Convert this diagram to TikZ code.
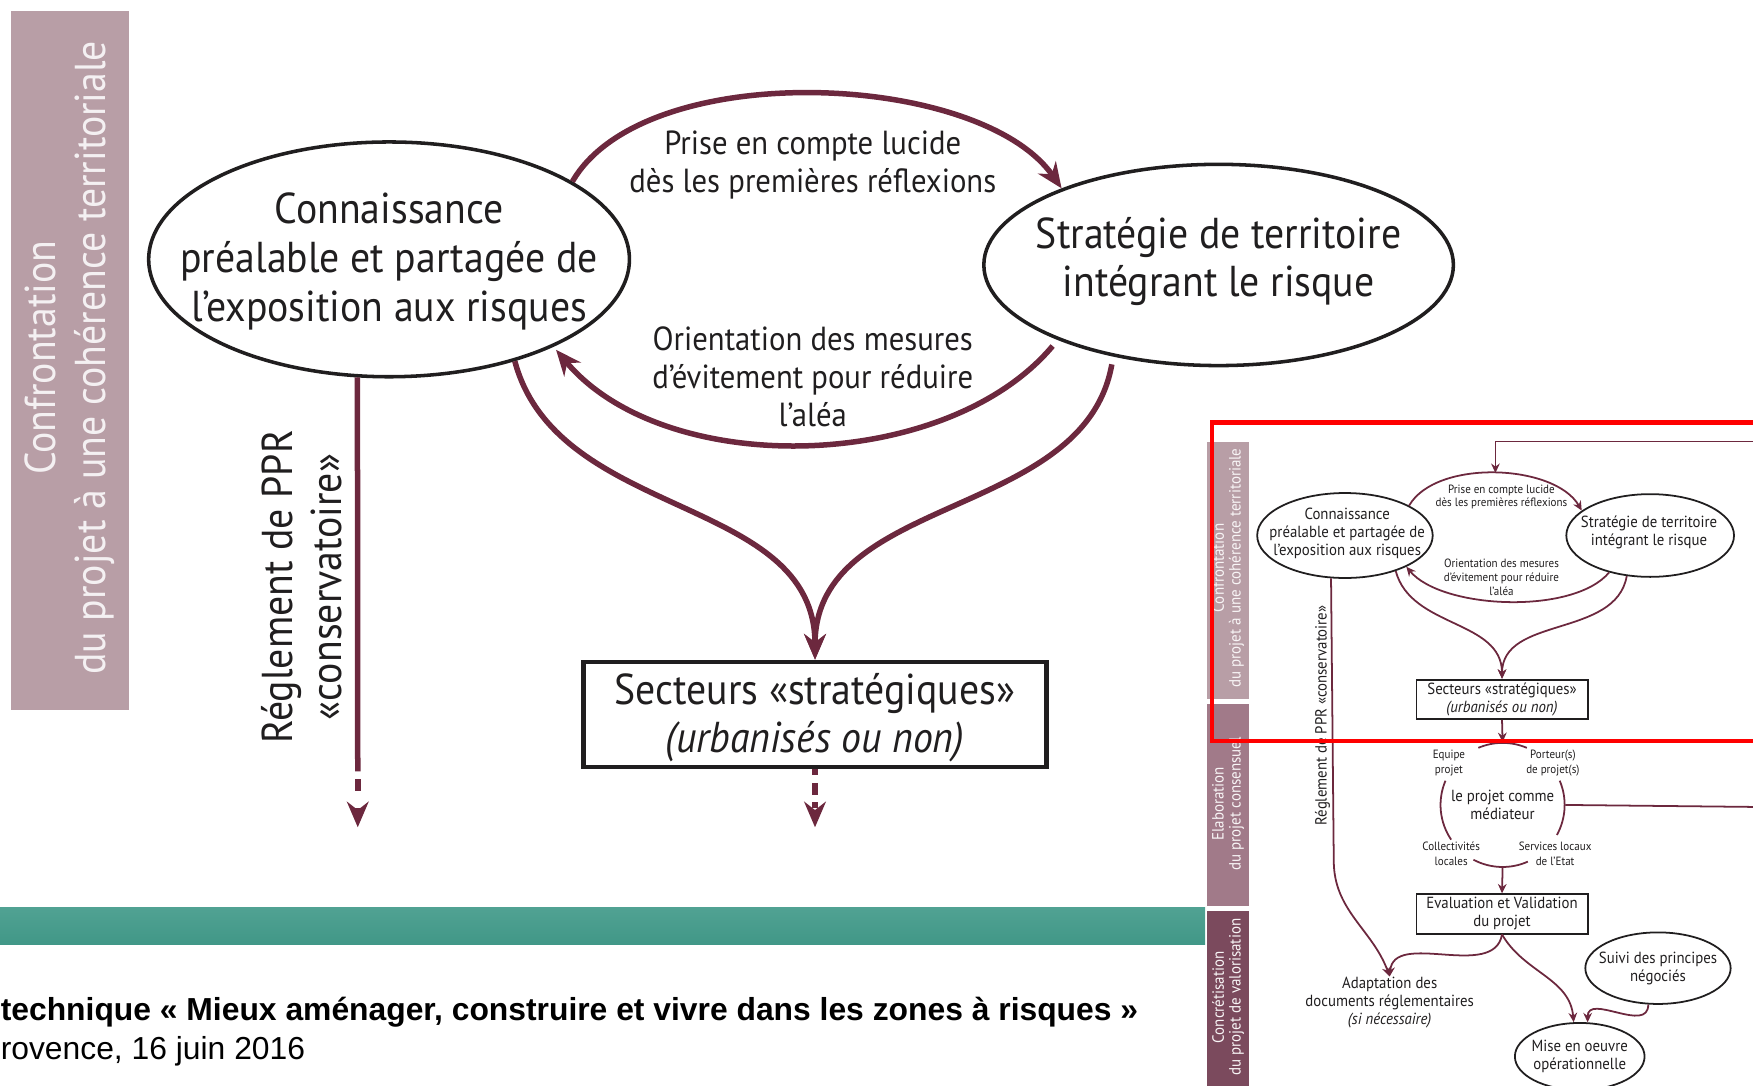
\documentclass[tikz,border=0pt]{standalone}
\usepackage{fontspec}
\setmainfont{PT Sans}[FakeStretch=0.92]
\newfontfamily\footfont{Liberation Sans}
\usepackage{xcolor}
\usepackage{tikz}
\usetikzlibrary{calc,arrows.meta,shapes.geometric}

\definecolor{plum}{RGB}{108,40,62}
\definecolor{ink}{RGB}{32,30,31}
\definecolor{bandA}{RGB}{184,158,166}
\definecolor{bandB}{RGB}{161,122,137}
\definecolor{bandC}{RGB}{123,74,93}
\definecolor{seagreen}{RGB}{72,168,150}

\begin{document}
\begin{tikzpicture}[scale=1,
  bubble/.style={ellipse, draw=ink, line width=0.9pt, inner sep=0pt},
  ibubble/.style={ellipse, draw=ink, line width=0.45pt, inner sep=0pt},
  framebox/.style={rectangle, draw=ink, line width=1.1pt, inner sep=0pt, minimum width=4.14cm, minimum height=0.94cm},
  iframebox/.style={rectangle, draw=ink, line width=0.5pt, inner sep=0pt, minimum width=1.53cm, minimum height=0.35cm},
  bigtext/.style={text=ink, align=center, inner sep=0pt, font=\fontsize{11}{12.4}\selectfont},
  midtext/.style={text=ink, align=center, inner sep=0pt, font=\fontsize{8.5}{9.7}\selectfont},
  itext/.style={text=ink, align=center, inner sep=0pt, font=\fontsize{4.1}{4.6}\selectfont},
  ismalltext/.style={text=ink, align=center, inner sep=0pt, font=\fontsize{3.05}{3.55}\selectfont},
  itinytext/.style={text=ink, align=center, inner sep=0pt, font=\fontsize{3.05}{3.7}\selectfont},
  bandtext/.style={text=white!85!bandA, align=center, inner sep=0pt, rotate=90, font=\fontsize{11}{12.8}\selectfont},
  ibandtext/.style={text=white!90!bandA, align=center, inner sep=0pt, rotate=90, font=\fontsize{4.15}{4.3}\selectfont},
  flow/.style={draw=plum, line width=1.4pt, -{Stealth[length=6.5pt,width=5.5pt]}},
  iflow/.style={draw=plum, line width=0.45pt, -{Stealth[length=2.4pt,width=2.2pt]}},
  plumline/.style={draw=plum, line width=0.45pt}
]
\useasboundingbox (0,0) rectangle (15.68,-9.71);
\clip (0,0) rectangle (15.68,-9.71);

% left band
\fill[bandA] (0.10,-0.10) rectangle (1.15,-6.35);
\node[bandtext] (bandLabel) at (0.625,-3.20) {Confrontation\\du projet à une cohérence territoriale};

% main diagram
\node[bubble, minimum width=4.30cm, minimum height=2.10cm] (conn) at (3.48,-2.32) {};
\node[bigtext] (connText) at (3.48,-2.34) {Connaissance\\préalable et partagée de\\l’exposition aux risques};
\node[bubble, minimum width=4.20cm, minimum height=1.80cm] (strat) at (10.90,-2.37) {};
\node[bigtext] (stratText) at (10.90,-2.34) {Stratégie de territoire\\intégrant le risque};
\node[framebox] (sect) at (7.29,-6.39) {};
\node[bigtext] (sectText) at (7.29,-6.42) {Secteurs «stratégiques»\\\textit{(urbanisés ou non)}};

\node[midtext] (takeText) at (7.27,-1.48) {Prise en compte lucide\\dès les premières réflexions};
\node[midtext] (steerText) at (7.27,-3.37) {Orientation des mesures\\d’évitement pour réduire\\l’aléa};

\draw[flow] (conn.23) to[out=60,in=125,looseness=0.75] (strat.154);
\draw[flow, shorten <=2pt, shorten >=1pt] (strat.205) to[out=230,in=-50,looseness=0.88] (conn.-28);
\draw[flow] (conn.-39) to[out=-75,in=90] (sect.north);
\draw[flow, shorten <=2pt] (strat.221) to[out=-100,in=90] (sect.north);

% PPR branch
\node[bigtext, rotate=90] (pprText) at (2.70,-5.25) {Réglement de PPR\\«conservatoire»};
\coordinate (pprDash) at (3.20,-6.90);
\coordinate (pprEnd) at (3.20,-7.40);
\draw[plum, line width=1.4pt] (conn.255) -- (pprDash);
\draw[flow, dash pattern=on 0pt off 2pt on 3pt off 2.2pt] (pprDash) -- (pprEnd);
\coordinate (sectEnd) at (7.29,-7.40);
\draw[flow, dash pattern=on 1.5pt off 2pt on 3pt off 2pt] (sect.south) -- (sectEnd);

% footer
\shade[top color=seagreen!85!gray, bottom color=seagreen!90!black] (0,-8.12) rectangle (10.78,-8.45);
\node[anchor=west, inner sep=0pt, font=\footfont\fontsize{8.1}{9.8}\selectfont\bfseries] (footTitle) at (0,-9.05) {technique « Mieux aménager, construire et vivre dans les zones à risques »};
\node[anchor=west, inner sep=0pt, font=\footfont\fontsize{8.1}{9.8}\selectfont] (footPlace) at (0,-9.40) {rovence, 16 juin 2016};

% inset: bands
\fill[bandA] (10.80,-3.95) rectangle (11.17,-6.25);
\fill[bandB] (10.80,-6.30) rectangle (11.17,-8.10);
\fill[bandC] (10.80,-8.15) rectangle (11.17,-9.80);
\node[ibandtext] (iBandA) at (10.985,-5.08) {Confrontation\\du projet à une cohérence territoriale};
\node[ibandtext] (iBandB) at (10.985,-7.19) {Elaboration\\du projet consensuel};
\node[ibandtext] (iBandC) at (10.985,-8.92) {Concrétisation\\du projet de valorisation};

% inset: upper loop
\node[ibubble, minimum width=1.57cm, minimum height=0.76cm] (iconn) at (12.03,-4.79) {};
\node[itext] (iconnText) at (12.05,-4.77) {Connaissance\\préalable et partagée de\\l’exposition aux risques};
\node[ibubble, minimum width=1.50cm, minimum height=0.74cm] (istrat) at (14.76,-4.79) {};
\node[itext] (istratText) at (14.75,-4.765) {Stratégie de territoire\\intégrant le risque};
\node[ismalltext] (itakeText) at (13.43,-4.445) {Prise en compte lucide\\dès les premières réflexions};
\node[ismalltext] (isteerText) at (13.43,-5.165) {Orientation des mesures\\d’évitement pour réduire\\l’aléa};
\draw[iflow] (iconn.25) to[out=60,in=120,looseness=0.8] coordinate[pos=0.5] (iapex) (istrat.160);
\draw[iflow] (istrat.222) to[out=230,in=-50,looseness=0.7] (iconn.-27);
\node[iframebox, itext] (isect) at (13.435,-6.255) {Secteurs «stratégiques»\\\textit{(urbanisés ou non)}};
\draw[iflow] (iconn.-35) to[out=-75,in=90] (isect.north);
\draw[iflow] (istrat.240) to[out=-100,in=90] (isect.north);
\coordinate (ifbTop) at (15.90,-3.95);
\draw[iflow] (ifbTop) -| (iapex);

% inset: mediator ring
\node[circle, minimum size=1.11cm, itext] (imed) at (13.44,-7.20) {le projet comme\\médiateur};
\draw[plumline] (imed.center) ++(67:0.555) arc[start angle=67, end angle=113, radius=0.555];
\draw[plumline] (imed.center) ++(157:0.555) arc[start angle=157, end angle=214, radius=0.555];
\draw[plumline] (imed.center) ++(242:0.555) arc[start angle=242, end angle=294, radius=0.555];
\draw[plumline] (imed.center) ++(-29:0.555) arc[start angle=-29, end angle=23, radius=0.555];
\node[itinytext] (iteam) at (12.96,-6.825) {Equipe\\projet};
\node[itinytext] (iowner) at (13.89,-6.825) {Porteur(s)\\de projet(s)};
\node[itinytext] (ilocal) at (12.98,-7.635) {Collectivités\\locales};
\node[itinytext] (istate) at (13.91,-7.635) {Services locaux\\de l’Etat};
\draw[iflow] (isect.south) -- (imed.north);
\coordinate (ifbRight) at (15.90,-7.22);
\draw[plumline] (imed.east) -- (ifbRight);

% inset: lower part
\node[iframebox, itext] (ieval) at (13.435,-8.175) {Evaluation et Validation\\du projet};
\draw[iflow] (imed.south) -- (ieval.north);
\node[itext] (iadapt) at (12.43,-8.97) {Adaptation des\\documents réglementaires\\\textit{(si nécessaire)}};
\node[ibubble, minimum width=1.30cm, minimum height=0.64cm] (isuivi) at (14.83,-8.66) {};
\node[itext] (isuiviText) at (14.83,-8.66) {Suivi des principes\\négociés};
\node[ibubble, minimum width=1.16cm, minimum height=0.60cm] (imise) at (14.13,-9.45) {};
\node[itext] (imiseText) at (14.13,-9.45) {Mise en oeuvre\\opérationnelle};
\node[itext, rotate=90] (ipprText) at (11.83,-6.40) {Réglement de PPR «conservatoire»};
\coordinate (ipprBend) at (11.93,-7.70);
\draw[iflow] (iconn.252) -- (ipprBend) to[out=-90,in=110] (iadapt.north);
\draw[iflow] (ieval.south) to[out=-100,in=85] (iadapt.north);
\draw[iflow] (ieval.south) to[out=-60,in=95] (imise.100);
\draw[iflow] (isuivi.255) to[out=-90,in=90,looseness=1.2] (imise.77);

% highlight frame
\draw[red, line width=1.15pt] (15.90,-3.78) -| (10.84,-6.63) -- (15.90,-6.63);
\end{tikzpicture}
\end{document}
